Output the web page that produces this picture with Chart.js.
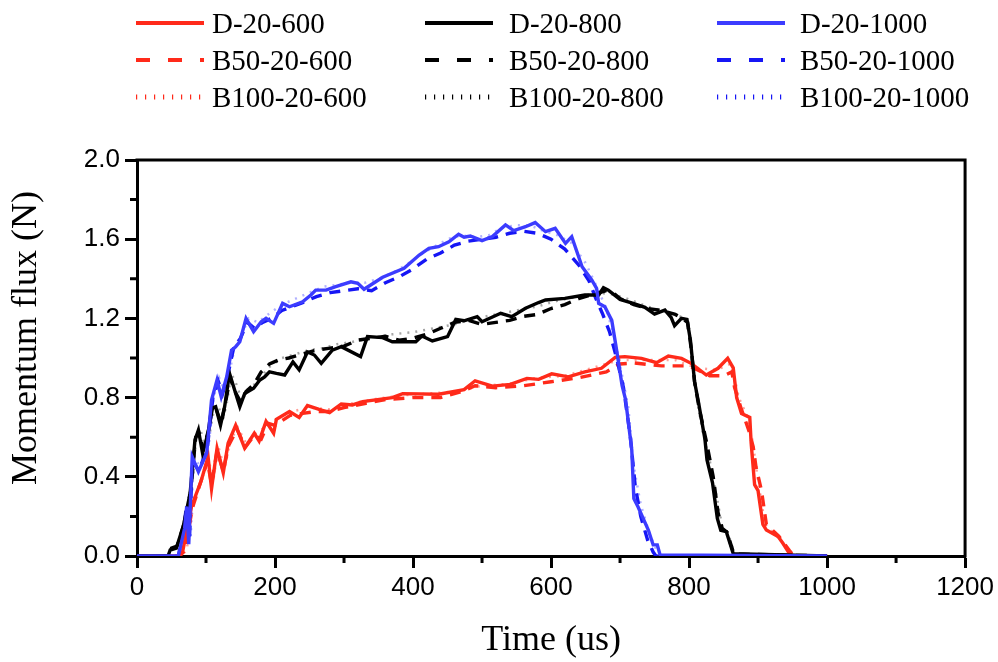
<!DOCTYPE html>
<html>
<head>
<meta charset="utf-8">
<script src="https://cdn.jsdelivr.net/npm/chart.js@4.4.1/dist/chart.umd.min.js"></script>
<style>
    html, body { margin: 0; padding: 0; background: #fff; }
    #wrap { position: relative; width: 998px; height: 662px; }
    #chart { position: absolute; left: 0; top: 0; }
    .lg-line { position: absolute; }
    .lg-text {
        position: absolute;
        height: 36px;
        line-height: 36px;
        font-family: "Liberation Serif", "Times New Roman", serif;
        font-size: 29px;
        color: #000;
        white-space: nowrap;
    }
</style>
</head>
<body>
<div id="wrap">
    <canvas id="chart" width="998" height="662"></canvas>
    <div id="legend"></div>
</div>
<script>
// ---- data (time in us, momentum flux in N) ----
const timeD600 = [0, 60, 66, 79, 93, 103, 108, 116, 125, 132, 143, 156, 170, 177, 187, 198, 202, 221, 235, 247, 264, 279, 296, 312, 327, 370, 385, 437, 474, 490, 515, 541, 565, 582, 601, 625, 649, 673, 693, 707, 731, 753, 770, 789, 803, 825, 842, 856, 864, 869, 876, 888, 890, 895, 900, 907, 912, 929, 936, 945, 951, 1000];
const fluxD600 = [0, 0, 0.02, 0.25, 0.38, 0.50, 0.34, 0.545, 0.42, 0.57, 0.66, 0.545, 0.62, 0.58, 0.68, 0.62, 0.69, 0.73, 0.70, 0.76, 0.74, 0.724, 0.768, 0.763, 0.78, 0.80, 0.82, 0.817, 0.84, 0.885, 0.858, 0.867, 0.897, 0.892, 0.92, 0.905, 0.93, 0.948, 1.003, 1.007, 0.998, 0.976, 1.01, 0.998, 0.973, 0.914, 0.948, 0.998, 0.95, 0.80, 0.72, 0.70, 0.57, 0.36, 0.33, 0.16, 0.131, 0.098, 0.064, 0.015, 0, 0];

const timeD800 = [0, 45, 48, 57, 67, 77, 84, 89, 95, 103, 108, 114, 121, 127, 134, 140, 149, 156, 169, 178, 185, 192, 202, 214, 226, 235, 247, 257, 267, 283, 296, 324, 334, 356, 370, 404, 413, 428, 450, 462, 474, 493, 500, 527, 543, 563, 582, 592, 620, 649, 669, 676, 683, 700, 719, 736, 750, 765, 774, 779, 789, 797, 802, 808, 814, 823, 826, 834, 841, 846, 854, 864, 1000];
const fluxD800 = [0, 0, 0.03, 0.04, 0.15, 0.317, 0.585, 0.636, 0.52, 0.62, 0.746, 0.754, 0.66, 0.754, 0.923, 0.855, 0.754, 0.82, 0.847, 0.889, 0.905, 0.93, 0.922, 0.914, 0.98, 0.94, 1.03, 1.015, 0.973, 1.04, 1.057, 1.007, 1.108, 1.103, 1.082, 1.082, 1.111, 1.086, 1.108, 1.195, 1.188, 1.209, 1.183, 1.226, 1.209, 1.251, 1.28, 1.293, 1.301, 1.318, 1.318, 1.355, 1.343, 1.296, 1.276, 1.256, 1.222, 1.242, 1.205, 1.163, 1.2, 1.195, 1.09, 0.88, 0.77, 0.59, 0.485, 0.37, 0.19, 0.13, 0.123, 0.012, 0];

const timeD1000 = [0, 60, 69, 72, 75, 80, 89, 101, 108, 116, 122, 130, 137, 143, 149, 158, 169, 180, 187, 198, 211, 221, 240, 252, 259, 274, 288, 310, 320, 329, 356, 387, 409, 423, 437, 452, 466, 474, 483, 500, 515, 534, 546, 563, 577, 592, 606, 621, 630, 645, 659, 666, 669, 678, 688, 695, 703, 708, 717, 720, 726, 741, 748, 754, 758, 1000];
const fluxD1000 = [0, 0, 0.14, 0.25, 0.06, 0.5, 0.426, 0.52, 0.788, 0.889, 0.805, 0.905, 1.04, 1.057, 1.082, 1.2, 1.133, 1.183, 1.2, 1.175, 1.276, 1.259, 1.284, 1.318, 1.343, 1.343, 1.36, 1.385, 1.377, 1.347, 1.408, 1.453, 1.52, 1.554, 1.562, 1.587, 1.625, 1.61, 1.616, 1.593, 1.613, 1.672, 1.643, 1.663, 1.684, 1.638, 1.655, 1.579, 1.613, 1.461, 1.394, 1.352, 1.276, 1.259, 1.19, 1.04, 0.86, 0.79, 0.535, 0.29, 0.249, 0.131, 0.056, 0.056, 0.005, 0];

const timeB50_600 = [0, 62, 70, 80, 92, 102, 108, 116, 125, 133, 145, 157, 170, 180, 190, 200, 222, 240, 260, 280, 300, 330, 360, 400, 440, 470, 490, 520, 560, 600, 640, 680, 700, 720, 760, 800, 830, 850, 862, 866, 875, 888, 893, 897, 905, 912, 930, 945, 952, 1000];
const fluxB50_600 = [0, 0, 0.03, 0.24, 0.37, 0.48, 0.36, 0.53, 0.43, 0.56, 0.64, 0.55, 0.61, 0.59, 0.67, 0.66, 0.71, 0.72, 0.73, 0.73, 0.75, 0.77, 0.79, 0.80, 0.80, 0.83, 0.86, 0.85, 0.86, 0.88, 0.90, 0.93, 0.97, 0.975, 0.96, 0.96, 0.91, 0.91, 0.93, 0.85, 0.75, 0.62, 0.55, 0.45, 0.33, 0.16, 0.10, 0.03, 0, 0];

const timeB50_800 = [0, 45, 50, 58, 68, 78, 85, 90, 96, 104, 110, 115, 122, 128, 135, 142, 150, 158, 170, 180, 192, 205, 220, 240, 260, 280, 300, 320, 340, 360, 380, 400, 420, 440, 460, 480, 500, 520, 540, 560, 580, 600, 620, 640, 660, 680, 690, 700, 720, 740, 760, 780, 790, 798, 803, 808, 815, 825, 835, 842, 848, 855, 865, 1000];
const fluxB50_800 = [0, 0, 0.04, 0.05, 0.16, 0.33, 0.6, 0.62, 0.54, 0.64, 0.76, 0.74, 0.67, 0.77, 0.9, 0.83, 0.78, 0.83, 0.87, 0.93, 0.97, 0.99, 1.0, 1.02, 1.04, 1.05, 1.06, 1.09, 1.1, 1.11, 1.09, 1.1, 1.12, 1.15, 1.18, 1.19, 1.17, 1.18, 1.19, 1.21, 1.22, 1.25, 1.27, 1.3, 1.32, 1.34, 1.33, 1.3, 1.27, 1.25, 1.24, 1.22, 1.2, 1.18, 1.05, 0.88, 0.74, 0.58, 0.4, 0.22, 0.14, 0.12, 0.01, 0];

const timeB50_1000 = [0, 60, 68, 72, 76, 80, 90, 102, 110, 118, 124, 132, 140, 150, 160, 170, 182, 195, 210, 225, 240, 260, 280, 300, 320, 340, 360, 380, 400, 420, 440, 460, 480, 500, 520, 540, 560, 580, 600, 620, 640, 655, 665, 675, 685, 695, 705, 715, 722, 730, 740, 748, 752, 1000];
const fluxB50_1000 = [0, 0, 0.15, 0.26, 0.08, 0.48, 0.43, 0.55, 0.8, 0.88, 0.82, 0.92, 1.05, 1.1, 1.18, 1.15, 1.18, 1.2, 1.24, 1.26, 1.28, 1.31, 1.33, 1.34, 1.35, 1.34, 1.38, 1.41, 1.45, 1.5, 1.53, 1.57, 1.59, 1.6, 1.61, 1.63, 1.64, 1.63, 1.6, 1.55, 1.47, 1.39, 1.3, 1.22, 1.13, 1.0, 0.85, 0.6, 0.35, 0.2, 0.08, 0.02, 0, 0];

const timeB100_600 = [0, 64, 72, 82, 95, 104, 110, 118, 127, 135, 146, 158, 172, 190, 205, 225, 250, 280, 310, 340, 380, 420, 460, 500, 540, 580, 620, 660, 700, 740, 780, 810, 840, 860, 866, 872, 885, 892, 900, 910, 930, 950, 1000];
const fluxB100_600 = [0, 0, 0.03, 0.27, 0.40, 0.49, 0.37, 0.55, 0.44, 0.58, 0.65, 0.57, 0.62, 0.66, 0.70, 0.73, 0.75, 0.74, 0.77, 0.79, 0.81, 0.82, 0.83, 0.86, 0.87, 0.90, 0.91, 0.95, 0.99, 0.99, 0.99, 0.95, 0.94, 0.97, 0.90, 0.80, 0.70, 0.58, 0.38, 0.16, 0.09, 0, 0];

const timeB100_800 = [0, 46, 52, 60, 70, 80, 86, 92, 98, 106, 112, 118, 124, 130, 137, 145, 152, 160, 175, 190, 210, 230, 250, 270, 290, 310, 340, 370, 400, 430, 460, 490, 520, 550, 580, 610, 640, 670, 690, 710, 740, 770, 795, 800, 806, 812, 820, 830, 840, 848, 856, 866, 1000];
const fluxB100_800 = [0, 0, 0.04, 0.06, 0.18, 0.35, 0.6, 0.64, 0.55, 0.63, 0.75, 0.76, 0.68, 0.77, 0.92, 0.86, 0.78, 0.84, 0.88, 0.95, 1.0, 1.02, 1.04, 1.05, 1.07, 1.08, 1.1, 1.12, 1.13, 1.15, 1.17, 1.2, 1.22, 1.24, 1.26, 1.29, 1.31, 1.33, 1.32, 1.3, 1.26, 1.23, 1.2, 1.12, 0.93, 0.78, 0.62, 0.48, 0.3, 0.15, 0.12, 0.01, 0];

const timeB100_1000 = [0, 61, 70, 74, 78, 82, 92, 104, 111, 119, 126, 134, 142, 152, 162, 175, 190, 210, 230, 250, 270, 290, 310, 330, 350, 370, 390, 410, 430, 450, 470, 490, 510, 530, 550, 570, 590, 610, 630, 650, 665, 680, 692, 702, 712, 720, 730, 742, 750, 758, 1000];
const fluxB100_1000 = [0, 0, 0.16, 0.27, 0.1, 0.5, 0.45, 0.56, 0.8, 0.9, 0.84, 0.93, 1.06, 1.12, 1.2, 1.18, 1.22, 1.27, 1.3, 1.33, 1.36, 1.37, 1.38, 1.38, 1.4, 1.43, 1.47, 1.52, 1.56, 1.6, 1.62, 1.61, 1.62, 1.66, 1.67, 1.67, 1.64, 1.62, 1.58, 1.48, 1.37, 1.25, 1.1, 0.93, 0.75, 0.45, 0.26, 0.12, 0.05, 0, 0];

// legend rows / columns
const seriesNames = [
    ['D-20-600', 'D-20-800', 'D-20-1000'],
    ['B50-20-600', 'B50-20-800', 'B50-20-1000'],
    ['B100-20-600', 'B100-20-800', 'B100-20-1000']
];
const yTitle = 'Momentum flux (N)';

// ---- styling ----
const RED = '#ff2a1a';
const BLACK = '#000000';
const BLUE = '#3c3cff';
const DASH_BLUE = '#1616f5';
const FAINT = { red: 'rgba(255,42,26,0.45)', black: 'rgba(0,0,0,0.35)', blue: 'rgba(60,60,255,0.4)' };

const pts = (t, v) => t.map((x, i) => ({ x: x, y: v[i] }));

const makeLine = (label, t, v, color, kind) => ({
    label: label,
    data: pts(t, v),
    borderColor: color,
    borderWidth: kind === 'dot' ? 2.5 : 3.4,
    borderDash: kind === 'dash' ? [11, 8] : (kind === 'dot' ? [2, 6] : []),
    pointRadius: 0,
    tension: 0,
    fill: false
});

// first dataset is painted last (on top)
const datasets = [
    makeLine('D-20-1000', timeD1000, fluxD1000, BLUE, 'solid'),
    makeLine('D-20-800', timeD800, fluxD800, BLACK, 'solid'),
    makeLine('D-20-600', timeD600, fluxD600, RED, 'solid'),
    makeLine('B50-20-1000', timeB50_1000, fluxB50_1000, DASH_BLUE, 'dash'),
    makeLine('B50-20-800', timeB50_800, fluxB50_800, BLACK, 'dash'),
    makeLine('B50-20-600', timeB50_600, fluxB50_600, RED, 'dash'),
    makeLine('B100-20-1000', timeB100_1000, fluxB100_1000, FAINT.blue, 'dot'),
    makeLine('B100-20-800', timeB100_800, fluxB100_800, FAINT.black, 'dot'),
    makeLine('B100-20-600', timeB100_600, fluxB100_600, FAINT.red, 'dot')
];

// ---- html legend ----
const legendColors = [[RED, BLACK, BLUE], [RED, BLACK, DASH_BLUE], [RED, BLACK, DASH_BLUE]];
const colLineX = [136, 425, 717];
const colTextX = [212, 509, 800];
const rowY = [23, 60, 97];
const legend = document.getElementById('legend');
seriesNames.forEach((row, r) => {
    row.forEach((name, c) => {
        const svg = document.createElementNS('http://www.w3.org/2000/svg', 'svg');
        svg.setAttribute('class', 'lg-line');
        svg.setAttribute('width', '70');
        svg.setAttribute('height', '10');
        svg.style.left = colLineX[c] + 'px';
        svg.style.top = (rowY[r] - 5) + 'px';
        const ln = document.createElementNS('http://www.w3.org/2000/svg', 'line');
        ln.setAttribute('x1', '0'); ln.setAttribute('x2', '68');
        ln.setAttribute('y1', '5'); ln.setAttribute('y2', '5');
        ln.setAttribute('stroke', legendColors[r][c]);
        if (r === 0) {
            ln.setAttribute('stroke-width', '4');
        } else if (r === 1) {
            ln.setAttribute('stroke-width', '4');
            ln.setAttribute('stroke-dasharray', '14 18');
        } else {
            ln.setAttribute('stroke-width', '5');
            ln.setAttribute('stroke-dasharray', '1.2 7.8');
        }
        svg.appendChild(ln);
        legend.appendChild(svg);

        const txt = document.createElement('div');
        txt.className = 'lg-text';
        txt.textContent = name;
        txt.style.left = colTextX[c] + 'px';
        txt.style.top = (rowY[r] - 18) + 'px';
        legend.appendChild(txt);
    });
});

// closed frame on top/right, minor ticks, and the y title (set a bit above centre as in the original)
const frameAndMinorTicks = {
    id: 'frameAndMinorTicks',
    afterDraw(chart) {
        const { ctx, chartArea: a, scales } = chart;
        ctx.save();
        ctx.strokeStyle = '#000';
        ctx.lineWidth = 3;
        ctx.beginPath();
        ctx.moveTo(a.left - 1.5, a.top);
        ctx.lineTo(a.right, a.top);
        ctx.lineTo(a.right, a.bottom + 1.5);
        scales.x.ticks.forEach(t => {
            if (t.value % 200 !== 0) {
                const px = scales.x.getPixelForValue(t.value);
                ctx.moveTo(px, a.bottom);
                ctx.lineTo(px, a.bottom + 7);
            }
        });
        scales.y.ticks.forEach(t => {
            if (Math.round(t.value * 10) % 4 !== 0) {
                const py = scales.y.getPixelForValue(t.value);
                ctx.moveTo(a.left, py);
                ctx.lineTo(a.left - 7, py);
            }
        });
        ctx.stroke();

        ctx.translate(27, (a.top + a.bottom) / 2 - 20);
        ctx.rotate(-Math.PI / 2);
        ctx.font = '36px "Liberation Serif", "Times New Roman", serif';
        ctx.fillStyle = '#000';
        ctx.textAlign = 'center';
        ctx.textBaseline = 'middle';
        ctx.fillText(yTitle, 0, 0);
        ctx.restore();
    }
};

const tickFont = { family: '"Liberation Sans", Arial, sans-serif', size: 26 };
const titleFont = { family: '"Liberation Serif", "Times New Roman", serif', size: 36 };

new Chart(document.getElementById('chart').getContext('2d'), {
    type: 'line',
    data: { datasets: datasets },
    options: {
        responsive: false,
        animation: false,
        layout: { padding: { top: 160, right: 31, left: 0, bottom: 0 } },
        plugins: { legend: { display: false }, tooltip: { enabled: false } },
        scales: {
            x: {
                type: 'linear',
                min: 0,
                max: 1200,
                afterFit: s => { s.height = 106; },
                ticks: {
                    stepSize: 100,
                    autoSkip: false,
                    maxRotation: 0,
                    padding: 4,
                    color: '#000',
                    font: tickFont,
                    callback: v => (v % 200 === 0 ? String(v) : '')
                },
                grid: {
                    drawOnChartArea: false,
                    drawTicks: true,
                    tickLength: 12,
                    tickWidth: 3,
                    tickColor: c => (c.tick && c.tick.value % 200 === 0 ? '#000' : 'rgba(0,0,0,0)')
                },
                border: { display: true, width: 3, color: '#000' },
                title: { display: true, text: 'Time (us)', color: '#000', font: titleFont, padding: { top: 0, bottom: 0 } }
            },
            y: {
                type: 'linear',
                min: 0,
                max: 2,
                afterFit: s => { s.width = 137; },
                ticks: {
                    stepSize: 0.2,
                    autoSkip: false,
                    padding: 5,
                    color: '#000',
                    font: tickFont,
                    callback: v => (Math.round(v * 10) % 4 === 0 ? v.toFixed(1) : '')
                },
                grid: {
                    drawOnChartArea: false,
                    drawTicks: true,
                    tickLength: 12,
                    tickWidth: 3,
                    tickColor: c => (c.tick && Math.round(c.tick.value * 10) % 4 === 0 ? '#000' : 'rgba(0,0,0,0)')
                },
                border: { display: true, width: 3, color: '#000' },
                title: { display: false }
            }
        }
    },
    plugins: [frameAndMinorTicks]
});
</script>
</body>
</html>
